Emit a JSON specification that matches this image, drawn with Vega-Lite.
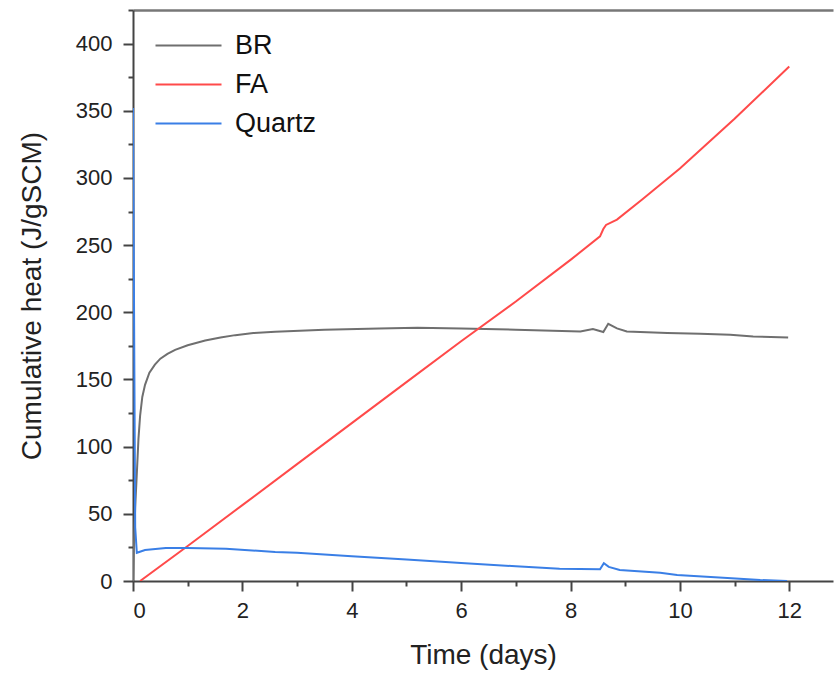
{
  "$schema": "https://vega.github.io/schema/vega-lite/v6.json",
  "width": 700,
  "height": 571,
  "autosize": {"type": "none"},
  "padding": {"left": 133, "top": 10, "right": 1, "bottom": 92},
  "background": "white",
  "config": {
    "font": "Liberation Sans",
    "view": {"stroke": null},
    "axis": {"grid": false, "domainColor": "#444", "domainWidth": 2, "tickColor": "#444", "tickWidth": 2, "labelColor": "#222", "titleColor": "#222", "labelFont": "Liberation Sans", "titleFont": "Liberation Sans", "titleFontWeight": "normal"}
  },
  "data": {
    "values": [
      {"s": "BR", "t": 0, "v": 0},
      {"s": "BR", "t": 0.02, "v": 30},
      {"s": "BR", "t": 0.04, "v": 55},
      {"s": "BR", "t": 0.07, "v": 80},
      {"s": "BR", "t": 0.1, "v": 106},
      {"s": "BR", "t": 0.13, "v": 123},
      {"s": "BR", "t": 0.17, "v": 137},
      {"s": "BR", "t": 0.22, "v": 146},
      {"s": "BR", "t": 0.3, "v": 155},
      {"s": "BR", "t": 0.4, "v": 161},
      {"s": "BR", "t": 0.5, "v": 165.5},
      {"s": "BR", "t": 0.63, "v": 169},
      {"s": "BR", "t": 0.77, "v": 172},
      {"s": "BR", "t": 1.0, "v": 175.5},
      {"s": "BR", "t": 1.32, "v": 179},
      {"s": "BR", "t": 1.6, "v": 181.3},
      {"s": "BR", "t": 1.87, "v": 183},
      {"s": "BR", "t": 2.2, "v": 184.5},
      {"s": "BR", "t": 2.6, "v": 185.5},
      {"s": "BR", "t": 3.5, "v": 187},
      {"s": "BR", "t": 4.5, "v": 188},
      {"s": "BR", "t": 5.2, "v": 188.5},
      {"s": "BR", "t": 6, "v": 188},
      {"s": "BR", "t": 7, "v": 187},
      {"s": "BR", "t": 8.18, "v": 185.7},
      {"s": "BR", "t": 8.41, "v": 187.5},
      {"s": "BR", "t": 8.6, "v": 185.3},
      {"s": "BR", "t": 8.69, "v": 191.4},
      {"s": "BR", "t": 8.85, "v": 188},
      {"s": "BR", "t": 9.03, "v": 185.7},
      {"s": "BR", "t": 9.77, "v": 184.5},
      {"s": "BR", "t": 10.37, "v": 184},
      {"s": "BR", "t": 10.92, "v": 183.2},
      {"s": "BR", "t": 11.34, "v": 182},
      {"s": "BR", "t": 11.98, "v": 181.3},
      {"s": "FA", "t": 0.13, "v": 0},
      {"s": "FA", "t": 1, "v": 26},
      {"s": "FA", "t": 2, "v": 56.5},
      {"s": "FA", "t": 3, "v": 87},
      {"s": "FA", "t": 4, "v": 117.5},
      {"s": "FA", "t": 5, "v": 148},
      {"s": "FA", "t": 6, "v": 178.5},
      {"s": "FA", "t": 7, "v": 208},
      {"s": "FA", "t": 8, "v": 239},
      {"s": "FA", "t": 8.54, "v": 256.5},
      {"s": "FA", "t": 8.6, "v": 262},
      {"s": "FA", "t": 8.65, "v": 265},
      {"s": "FA", "t": 8.85, "v": 269},
      {"s": "FA", "t": 9.31, "v": 284},
      {"s": "FA", "t": 10, "v": 307},
      {"s": "FA", "t": 11, "v": 344},
      {"s": "FA", "t": 12, "v": 383},
      {"s": "Quartz", "t": 0, "v": 352},
      {"s": "Quartz", "t": 0.04, "v": 40},
      {"s": "Quartz", "t": 0.07, "v": 21},
      {"s": "Quartz", "t": 0.22, "v": 23},
      {"s": "Quartz", "t": 0.6, "v": 24.5},
      {"s": "Quartz", "t": 1, "v": 24.5},
      {"s": "Quartz", "t": 1.7, "v": 24},
      {"s": "Quartz", "t": 2.6, "v": 21.6},
      {"s": "Quartz", "t": 3, "v": 21},
      {"s": "Quartz", "t": 4, "v": 18.5},
      {"s": "Quartz", "t": 5, "v": 16},
      {"s": "Quartz", "t": 6, "v": 13.4},
      {"s": "Quartz", "t": 7, "v": 11},
      {"s": "Quartz", "t": 7.8, "v": 9.2},
      {"s": "Quartz", "t": 8.54, "v": 8.7},
      {"s": "Quartz", "t": 8.61, "v": 13.2},
      {"s": "Quartz", "t": 8.7, "v": 10.5},
      {"s": "Quartz", "t": 8.9, "v": 8.2},
      {"s": "Quartz", "t": 9.64, "v": 6.2},
      {"s": "Quartz", "t": 9.95, "v": 4.5},
      {"s": "Quartz", "t": 10.87, "v": 2.2},
      {"s": "Quartz", "t": 11.47, "v": 0.7},
      {"s": "Quartz", "t": 11.96, "v": 0}
    ]
  },
  "layer": [
    {
      "mark": {"type": "line", "strokeWidth": 2, "clip": true},
      "encoding": {
        "x": {"field": "t", "type": "quantitative", "scale": {"domain": [0, 12.8], "nice": false},
          "axis": {"orient": "bottom", "values": [0, 2, 4, 6, 8, 10, 12], "tickSize": 10, "labelFontSize": 22, "labelPadding": 9, "title": "Time (days)", "titleFontSize": 28, "titlePadding": 20}},
        "y": {"field": "v", "type": "quantitative", "scale": {"domain": [0, 425], "nice": false},
          "axis": {"orient": "left", "values": [0, 50, 100, 150, 200, 250, 300, 350, 400], "tickSize": 10, "labelFontSize": 22, "labelPadding": 11, "title": "Cumulative heat (J/gSCM)", "titleFontSize": 28, "titlePadding": 29}},
        "color": {"field": "s", "type": "nominal",
          "scale": {"domain": ["BR", "FA", "Quartz"], "range": ["#6f6f6f", "#ff4a4a", "#3a7fe6"]},
          "legend": {"title": null, "orient": "none", "legendX": 42, "legendY": 22, "padding": 0,
            "symbolType": "M-3.3,0H3.3", "symbolSize": 400, "symbolStrokeWidth": 2,
            "labelFontSize": 27, "labelColor": "#111", "labelOffset": 33, "rowPadding": 11}},
        "order": {"field": "t", "type": "quantitative"}
      }
    },
    {
      "mark": {"type": "point", "opacity": 0},
      "encoding": {
        "x": {"field": "t", "type": "quantitative",
          "axis": {"orient": "bottom", "values": [1, 3, 5, 7, 9, 11], "tickSize": 5, "labels": false, "domain": false, "title": null}},
        "y": {"field": "v", "type": "quantitative",
          "axis": {"orient": "left", "values": [25, 75, 125, 175, 225, 275, 325, 375, 425], "tickSize": 5, "labels": false, "domain": false, "title": null}}
      }
    },
    {
      "mark": {"type": "point", "opacity": 0},
      "encoding": {
        "x": {"field": "t", "type": "quantitative",
          "axis": {"orient": "top", "ticks": false, "labels": false, "domain": true, "domainColor": "#777", "domainWidth": 2.5, "title": null}}
      }
    }
  ],
  "resolve": {"axis": {"x": "independent", "y": "independent"}}
}
